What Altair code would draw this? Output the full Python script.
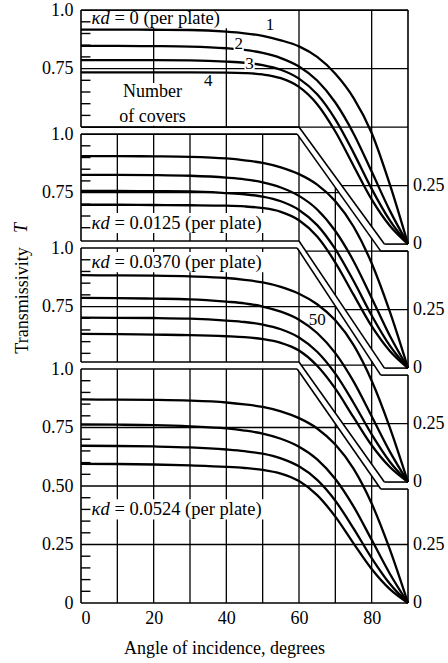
import altair as alt
import numpy as np
import pandas as pd

# ---------------- data ----------------
ANGLES = [0, 10, 20, 30, 40, 45, 50, 55, 60, 65, 70, 75, 80, 85, 90]
COVERS = [1, 2, 3, 4]
KD_VALUES = ["0", "0.0125", "0.0370", "0.0524"]

T_KD_0000 = [
    [0.917, 0.917, 0.916, 0.915, 0.908, 0.901, 0.890, 0.871, 0.845, 0.800, 0.728, 0.625, 0.475, 0.255, 0.0],
    [0.847, 0.847, 0.846, 0.844, 0.837, 0.830, 0.817, 0.795, 0.759, 0.699, 0.605, 0.473, 0.310, 0.143, 0.0],
    [0.786, 0.786, 0.786, 0.785, 0.780, 0.775, 0.765, 0.745, 0.707, 0.640, 0.533, 0.391, 0.236, 0.101, 0.0],
    [0.734, 0.734, 0.734, 0.734, 0.733, 0.731, 0.725, 0.709, 0.672, 0.598, 0.481, 0.335, 0.191, 0.078, 0.0],
]
T_KD_0125 = [
    [0.906, 0.906, 0.905, 0.903, 0.896, 0.888, 0.877, 0.858, 0.829, 0.784, 0.713, 0.605, 0.448, 0.241, 0.0],
    [0.826, 0.826, 0.825, 0.822, 0.814, 0.807, 0.794, 0.772, 0.736, 0.678, 0.586, 0.458, 0.300, 0.138, 0.0],
    [0.757, 0.757, 0.756, 0.755, 0.748, 0.743, 0.733, 0.713, 0.676, 0.611, 0.508, 0.373, 0.225, 0.096, 0.0],
    [0.698, 0.698, 0.697, 0.696, 0.694, 0.691, 0.684, 0.668, 0.632, 0.562, 0.451, 0.314, 0.179, 0.073, 0.0],
]
T_KD_0370 = [
    [0.884, 0.883, 0.882, 0.879, 0.872, 0.864, 0.853, 0.834, 0.805, 0.760, 0.691, 0.586, 0.433, 0.233, 0.0],
    [0.787, 0.786, 0.784, 0.781, 0.771, 0.764, 0.750, 0.728, 0.694, 0.637, 0.551, 0.430, 0.281, 0.130, 0.0],
    [0.703, 0.702, 0.701, 0.698, 0.690, 0.684, 0.673, 0.653, 0.618, 0.557, 0.463, 0.339, 0.204, 0.087, 0.0],
    [0.633, 0.632, 0.630, 0.628, 0.623, 0.619, 0.611, 0.595, 0.562, 0.497, 0.399, 0.277, 0.157, 0.064, 0.0],
]
T_KD_0524 = [
    [0.870, 0.869, 0.868, 0.865, 0.857, 0.849, 0.838, 0.819, 0.790, 0.746, 0.677, 0.574, 0.425, 0.229, 0.0],
    [0.763, 0.762, 0.760, 0.755, 0.746, 0.737, 0.724, 0.702, 0.668, 0.614, 0.530, 0.413, 0.270, 0.125, 0.0],
    [0.672, 0.671, 0.669, 0.665, 0.656, 0.649, 0.638, 0.618, 0.584, 0.526, 0.437, 0.319, 0.192, 0.082, 0.0],
    [0.595, 0.594, 0.592, 0.588, 0.582, 0.577, 0.569, 0.553, 0.521, 0.461, 0.369, 0.255, 0.145, 0.059, 0.0],
]
PANELS = [T_KD_0000, T_KD_0125, T_KD_0370, T_KD_0524]

LEFT_TICKS_TOP = ["1.0", "0.75"]
LEFT_TICKS_BOTTOM = ["1.0", "0.75", "0.50", "0.25", "0"]
RIGHT_TICKS = ["0.25", "0"]

# ---------------- layout of the stacked panels ----------------
OFF = [1.534, 1.004, 0.517, 0.0]   # vertical shift of each panel (in T units)
GAP = 0.03
FONT = "Liberation Serif"


def top_pts(i):
    if i == 0:
        return [0, 90], [OFF[0] + 1, OFF[0] + 1]
    U, L = OFF[i - 1], OFF[i]
    return [0, 59.5, 82.5, 90], [L + 1, L + 1, U - GAP, U - GAP]


def bot_pts(i):
    if i == 3:
        return [0, 90], [0.0, 0.0]
    U, L = OFF[i], OFF[i + 1]
    return [0, 60, 83.5, 90], [L + 1 + GAP, L + 1 + GAP, U, U]


def at(pts, x):
    return float(np.interp(x, pts[0], pts[1]))


# curves
rows = []
for p, curves in enumerate(PANELS):
    for n, vals in zip(COVERS, curves):
        for a, t in zip(ANGLES, vals):
            rows.append({"x": a, "y": t + OFF[p], "series": f"{p}-{n}"})
curve_df = pd.DataFrame(rows)

# frame segments
frame = []
for i in range(4):
    for pts in (top_pts(i), bot_pts(i)):
        xs, ys = pts
        for k in range(len(xs) - 1):
            frame.append({"x": xs[k], "y": ys[k], "x2": xs[k + 1], "y2": ys[k + 1]})
    frame.append({"x": 0, "y": at(top_pts(i), 0), "x2": 0, "y2": at(bot_pts(i), 0)})
    frame.append({"x": 90, "y": at(top_pts(i), 90), "x2": 90, "y2": at(bot_pts(i), 90)})
frame_df = pd.DataFrame(frame)

# grid lines
grid = []
xs_fine = np.linspace(0, 90, 9001)
for i in range(4):
    vx = [20, 40, 60, 80] if i == 0 else [10, 20, 30, 40, 50, 60, 70, 80]
    for x in vx:
        grid.append({"x": x, "y": at(bot_pts(i), x), "x2": x, "y2": at(top_pts(i), x)})
    for v in (0.25, 0.5, 0.75):
        Y = OFF[i] + v
        tb = np.interp(xs_fine, *top_pts(i))
        bb = np.interp(xs_fine, *bot_pts(i))
        m = (bb <= Y + 1e-9) & (tb >= Y - 1e-9)
        if m.any():
            grid.append({"x": float(xs_fine[m].min()), "y": Y, "x2": float(xs_fine[m].max()), "y2": Y})
grid_df = pd.DataFrame(grid)

# minor ticks on the left edge
ticks = []
for i in range(4):
    lo, hi = at(bot_pts(i), 0), at(top_pts(i), 0)
    for k in range(1, 20):
        if k % 5 == 0:
            continue
        Y = OFF[i] + k * 0.05
        if lo + 0.01 < Y < hi - 0.01:
            ticks.append({"x": 0, "y": Y, "x2": 2.6, "y2": Y})
tick_df = pd.DataFrame(ticks)

# panel labels
LABEL_AT = [(2.9, 0.965), (2.9, 0.62), (2.9, 0.94), (2.9, 0.40)]
LABEL_W = [37.5, 47.5, 47.5, 47.5]
lab_rows, lab_bg = [], []
for i, (x, v) in enumerate(LABEL_AT):
    Y = OFF[i] + v
    lab_rows.append({"x": x, "y": Y, "a": "κd", "b": f"= {KD_VALUES[i]} (per plate)"})
    lab_bg.append({"x": x - 0.3, "x2": x + LABEL_W[i], "y": Y - 0.043, "y2": Y + 0.043})
lab_df = pd.DataFrame(lab_rows)
# "Number of covers"
lab_bg.append({"x": 10.0, "x2": 29.5, "y": 2.04, "y2": 2.222})
bg_df = pd.DataFrame(lab_bg)

note_df = pd.DataFrame([
    {"x": 19.7, "y": 2.184, "t": "Number"},
    {"x": 19.7, "y": 2.077, "t": "of covers"},
])
num_df = pd.DataFrame([
    {"x": 52.0, "y": 2.470, "t": "1"},
    {"x": 43.4, "y": 2.390, "t": "2"},
    {"x": 46.4, "y": 2.305, "t": "3"},
    {"x": 35.0, "y": 2.232, "t": "4"},
    {"x": 65.0, "y": 1.209, "t": "50"},
])
num_bg_df = pd.DataFrame([
    {"x": 42.0, "x2": 44.8, "y": 2.355, "y2": 2.425},
    {"x": 45.0, "x2": 47.8, "y": 2.27, "y2": 2.34},
])

# axis tick labels
left_vals, left_labs = [], []
for i in range(3):
    for lab, v in zip(LEFT_TICKS_TOP, (1.0, 0.75)):
        left_vals.append(round(OFF[i] + v, 4))
        left_labs.append(lab)
for lab, v in zip(LEFT_TICKS_BOTTOM, (1.0, 0.75, 0.5, 0.25, 0.0)):
    left_vals.append(round(OFF[3] + v, 4))
    left_labs.append(lab)
label_expr = "".join(
    f"abs(datum.value - {v}) < 0.0005 ? '{l}' : " for v, l in zip(left_vals, left_labs)
) + "''"

right_df = pd.DataFrame([
    {"x": 90, "y": OFF[i] + v, "t": lab}
    for i in range(4) for lab, v in zip(RIGHT_TICKS, (0.25, 0.0))
])

# ---------------- chart ----------------
XS = alt.Scale(domain=[0, 90], nice=False, zero=False)
YS = alt.Scale(domain=[0, 2.543], nice=False, zero=False)
XAX = alt.Axis(values=[0, 20, 40, 60, 80], format="d", grid=False, domain=False,
               tickSize=0, labelPadding=6, labelFont=FONT, labelFontSize=18,
               labelColor="black", title="Angle of incidence, degrees",
               titleFont=FONT, titleFontSize=18, titleFontWeight="normal",
               titleColor="black", titleX=143, titleY=45, titleBaseline="middle",
               titleAlign="center")
YAX = alt.Axis(values=left_vals, labelExpr=label_expr, grid=False, domain=False,
               tickSize=0, labelPadding=8, labelFont=FONT, labelFontSize=18,
               labelColor="black", labelBaseline="middle",
               title="Transmissivity", titleFont=FONT, titleFontSize=18,
               titleFontWeight="normal", titleColor="black", titleAngle=270,
               titleX=-59, titleY=292, titleAlign="center", titleBaseline="middle")


def X(f="x"):
    return alt.X(f"{f}:Q", scale=XS, axis=XAX)


def Y(f="y"):
    return alt.Y(f"{f}:Q", scale=YS, axis=YAX)


grid_l = alt.Chart(grid_df).mark_rule(color="black", strokeWidth=1.3).encode(
    x=X(), y=Y(), x2="x2:Q", y2="y2:Q")
bg_l = alt.Chart(bg_df).mark_rect(color="white").encode(
    x=X(), y=Y(), x2="x2:Q", y2="y2:Q")
frame_l = alt.Chart(frame_df).mark_rule(color="black", strokeWidth=1.6).encode(
    x=X(), y=Y(), x2="x2:Q", y2="y2:Q")
tick_l = alt.Chart(tick_df).mark_rule(color="black", strokeWidth=1.4).encode(
    x=X(), y=Y(), x2="x2:Q", y2="y2:Q")
curve_l = alt.Chart(curve_df).mark_line(color="black", strokeWidth=2.3,
                                        interpolate="monotone").encode(
    x=X(), y=Y(), detail="series:N")
numbg_l = alt.Chart(num_bg_df).mark_rect(color="white").encode(
    x=X(), y=Y(), x2="x2:Q", y2="y2:Q")

lab_a = alt.Chart(lab_df).mark_text(font=FONT, fontSize=18.5, fontStyle="italic",
                                    align="left", baseline="middle", color="black").encode(
    x=X(), y=Y(), text="a:N")
lab_b = alt.Chart(lab_df).mark_text(font=FONT, fontSize=18.5, align="left",
                                    baseline="middle", color="black", dx=23).encode(
    x=X(), y=Y(), text="b:N")
note_l = alt.Chart(note_df).mark_text(font=FONT, fontSize=18, align="center",
                                      baseline="middle", color="black").encode(
    x=X(), y=Y(), text="t:N")
num_l = alt.Chart(num_df).mark_text(font=FONT, fontSize=17, align="center",
                                    baseline="middle", color="black").encode(
    x=X(), y=Y(), text="t:N")
right_l = alt.Chart(right_df).mark_text(font=FONT, fontSize=18, align="left",
                                        baseline="middle", color="black", dx=5).encode(
    x=X(), y=Y(), text="t:N")
t_l = alt.Chart(pd.DataFrame({"t": ["T"]})).mark_text(
    font=FONT, fontSize=18, fontStyle="italic", angle=270, align="center",
    baseline="middle", color="black").encode(
    x=alt.value(-59), y=alt.value(220), text="t:N")

chart = alt.layer(
    grid_l, bg_l, frame_l, tick_l, curve_l, numbg_l,
    lab_a, lab_b, note_l, num_l, right_l, t_l,
).properties(
    width=327, height=595,
    padding={"left": 81, "top": 8, "right": 40, "bottom": 60},
    autosize=alt.AutoSizeParams(type="none"),
    background="white",
).configure_view(strokeWidth=0)

chart.save("out.html", embed_options={"renderer": "svg", "actions": False})
